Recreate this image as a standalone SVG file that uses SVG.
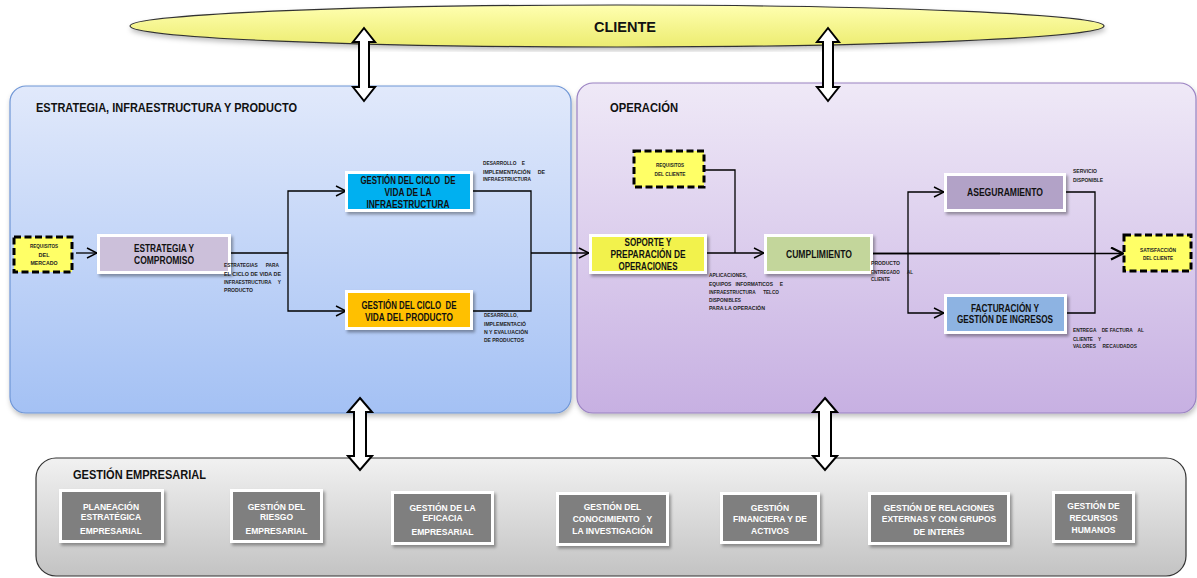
<svg xmlns="http://www.w3.org/2000/svg" width="1197" height="578" viewBox="0 0 1197 578">
<defs>
  <linearGradient id="gLeft" x1="0" y1="0" x2="0" y2="1">
    <stop offset="0" stop-color="#e1e9fb"/>
    <stop offset="1" stop-color="#a4c1f4"/>
  </linearGradient>
  <linearGradient id="gRight" x1="0" y1="0" x2="0" y2="1">
    <stop offset="0" stop-color="#efe9f7"/>
    <stop offset="1" stop-color="#c7b0e2"/>
  </linearGradient>
  <linearGradient id="gBottom" x1="0" y1="0" x2="0" y2="1">
    <stop offset="0" stop-color="#f1f1f1"/>
    <stop offset="1" stop-color="#c3c3c3"/>
  </linearGradient>
  <linearGradient id="gClient" x1="0" y1="0" x2="0" y2="1">
    <stop offset="0" stop-color="#ffffb0"/>
    <stop offset="1" stop-color="#ecec70"/>
  </linearGradient>
  <filter id="sh" x="-10%" y="-20%" width="130%" height="150%">
    <feDropShadow dx="2" dy="2.5" stdDeviation="1.6" flood-color="#000" flood-opacity="0.35"/>
  </filter>
  <filter id="shp" x="-5%" y="-5%" width="110%" height="115%">
    <feDropShadow dx="1" dy="3" stdDeviation="2.5" flood-color="#000" flood-opacity="0.25"/>
  </filter>
  <marker id="ah" viewBox="0 0 12 12" refX="11" refY="6" markerWidth="12" markerHeight="12" markerUnits="userSpaceOnUse" orient="auto">
    <path d="M1,1 L11,6 L1,11" fill="none" stroke="#000" stroke-width="1.4"/>
  </marker>
  <marker id="ahb" viewBox="0 0 14 14" refX="13" refY="7" markerWidth="14" markerHeight="14" markerUnits="userSpaceOnUse" orient="auto">
    <path d="M1,1 L13,7 L1,13" fill="none" stroke="#000" stroke-width="2.2"/>
  </marker>
</defs>
<style>
  text { font-family: "Liberation Sans", Arial, sans-serif; font-weight: bold; white-space: pre; }
  .title { font-size: 12.5px; fill: #111; }
  .bx { font-size: 10px; fill: #111; text-anchor: middle; }
  .sm { font-size: 5.5px; fill: #222; }
  .smc { font-size: 5.5px; fill: #222; text-anchor: middle; }
  .gb { font-size: 8.5px; fill: #fff; text-anchor: middle; }
  .frame { fill: #fff; filter: url(#sh); }
  .dash { fill: #ffff66; stroke: #000; stroke-width: 3; stroke-dasharray: 7 3.5; }
  .ln { fill: none; stroke: #000; stroke-width: 1.3; }
  .blk { fill: #fff; stroke: #000; stroke-width: 2; stroke-linejoin: miter; }
  .gbox { fill: #7f7f7f; }
</style>

<!-- panels -->
<g id="panel-estrategia">
  <rect x="10" y="86" width="561" height="327" rx="16" fill="url(#gLeft)" stroke="#6f96d6" stroke-width="1.2" filter="url(#shp)"/>
  <text class="title" x="36" y="112" textLength="261" lengthAdjust="spacingAndGlyphs">ESTRATEGIA, INFRAESTRUCTURA Y PRODUCTO</text>
</g>
<g id="panel-operacion">
  <rect x="577" y="83" width="619" height="330" rx="16" fill="url(#gRight)" stroke="#9a82c2" stroke-width="1.2" filter="url(#shp)"/>
  <text class="title" x="610" y="112" textLength="68" lengthAdjust="spacingAndGlyphs">OPERACIÓN</text>
</g>
<g id="panel-gestion-empresarial">
  <rect x="36" y="458" width="1150" height="118" rx="20" fill="url(#gBottom)" stroke="#333" stroke-width="1.2"/>
  <text class="title" x="73" y="479" textLength="133" lengthAdjust="spacingAndGlyphs">GESTIÓN EMPRESARIAL</text>
</g>

<!-- client -->
<g id="cliente">
  <ellipse cx="617" cy="26" rx="487" ry="21" fill="url(#gClient)" stroke="#333" stroke-width="1.2" filter="url(#shp)"/>
  <text x="625" y="32" font-size="15" text-anchor="middle" fill="#111" textLength="62" lengthAdjust="spacingAndGlyphs">CLIENTE</text>
</g>

<!-- connectors -->
<g id="connectors">
  <path class="ln" d="M76,253 H97" marker-end="url(#ah)"/>
  <path class="ln" d="M231,253 H288"/>
  <path class="ln" d="M288,253 V191 H346" marker-end="url(#ah)"/>
  <path class="ln" d="M288,253 V311 H346" marker-end="url(#ah)"/>
  <path class="ln" d="M472,191 H531 V311 H472"/>
  <path class="ln" d="M531,253 H589" marker-end="url(#ah)"/>
  <path class="ln" d="M704,170 H735 V253"/>
  <path class="ln" d="M707,253 H764" marker-end="url(#ah)"/>
  <path class="ln" d="M873,253.5 H1000" stroke-width="2.6"/>
  <path class="ln" d="M873,253.5 H1123" stroke-width="1.6" marker-end="url(#ahb)"/>
  <path class="ln" d="M908,253 V192 H944" marker-end="url(#ah)"/>
  <path class="ln" d="M908,253 V313 H944" marker-end="url(#ah)"/>
  <path class="ln" d="M1065,192 H1095 V313 H1066"/>
  <!-- two-way block arrows -->
  <polygon class="blk" points="364,28 375,42 369,42 369,87 375,87 364,101 353,87 359,87 359,42 353,42"/>
  <polygon class="blk" points="828,28 839,42 833,42 833,87 839,87 828,101 817,87 823,87 823,42 817,42"/>
  <polygon class="blk" points="360,398 372,412 366,412 366,456 372,456 360,470 348,456 354,456 354,412 348,412"/>
  <polygon class="blk" points="825,398 837,412 831,412 831,456 837,456 825,470 813,456 819,456 819,412 813,412"/>
</g>

<!-- strategy / infrastructure / product -->
<g id="requisitos-mercado">
  <rect class="dash" x="14" y="237" width="58" height="35"/>
  <text class="smc" x="44" y="248" textLength="28" lengthAdjust="spacingAndGlyphs">REQUISITOS</text>
  <text class="smc" x="44" y="257">DEL</text>
  <text class="smc" x="44" y="265" textLength="27" lengthAdjust="spacingAndGlyphs">MERCADO</text>
</g>
<g id="estrategia-compromiso">
  <rect class="frame" x="97" y="234" width="134" height="40"/>
  <rect x="100" y="237" width="128" height="34" fill="#ccc0da"/>
  <text class="bx" x="164" y="252" fill="#333" textLength="60" lengthAdjust="spacingAndGlyphs">ESTRATEGIA Y</text>
  <text class="bx" x="164" y="264" fill="#333" textLength="60" lengthAdjust="spacingAndGlyphs">COMPROMISO</text>
  <text class="sm" x="224" y="267" textLength="55" lengthAdjust="spacingAndGlyphs">ESTRATEGIAS      PARA</text>
  <text class="sm" x="224" y="275.5" textLength="57" lengthAdjust="spacingAndGlyphs">EL CICLO DE VIDA DE</text>
  <text class="sm" x="224" y="283.5" textLength="57" lengthAdjust="spacingAndGlyphs">INFRAESTRUCTURA     Y</text>
  <text class="sm" x="224" y="292" textLength="29" lengthAdjust="spacingAndGlyphs">PRODUCTO</text>
</g>
<g id="ciclo-infraestructura">
  <rect class="frame" x="345" y="171" width="128" height="41"/>
  <rect x="348" y="174" width="122" height="35" fill="#00b0f0"/>
  <text class="bx" x="408" y="184" textLength="95" lengthAdjust="spacingAndGlyphs">GESTIÓN DEL CICLO  DE</text>
  <text class="bx" x="408" y="195.5" textLength="47" lengthAdjust="spacingAndGlyphs">VIDA DE LA</text>
  <text class="bx" x="408" y="207.5" textLength="83" lengthAdjust="spacingAndGlyphs">INFRAESTRUCTURA</text>
  <text class="sm" x="483" y="165" textLength="42" lengthAdjust="spacingAndGlyphs">DESARROLLO    E</text>
  <text class="sm" x="483" y="174" textLength="62" lengthAdjust="spacingAndGlyphs">IMPLEMENTACIÓN     DE</text>
  <text class="sm" x="483" y="181" textLength="48" lengthAdjust="spacingAndGlyphs">INFRAESTRUCTURA</text>
</g>
<g id="ciclo-producto">
  <rect class="frame" x="345" y="290" width="128" height="40"/>
  <rect x="348" y="293" width="122" height="34" fill="#ffc000"/>
  <text class="bx" x="409" y="308.5" textLength="95" lengthAdjust="spacingAndGlyphs">GESTIÓN DEL CICLO  DE</text>
  <text class="bx" x="409" y="320.5" textLength="88" lengthAdjust="spacingAndGlyphs">VIDA DEL PRODUCTO</text>
  <text class="sm" x="484" y="317" textLength="34" lengthAdjust="spacingAndGlyphs">DESARROLLO,</text>
  <text class="sm" x="484" y="326" textLength="42" lengthAdjust="spacingAndGlyphs">IMPLEMENTACIÓ</text>
  <text class="sm" x="484" y="334" textLength="44" lengthAdjust="spacingAndGlyphs">N Y EVALUACIÓN</text>
  <text class="sm" x="484" y="342" textLength="40" lengthAdjust="spacingAndGlyphs">DE PRODUCTOS</text>
</g>

<!-- operation -->
<g id="requisitos-cliente">
  <rect class="dash" x="634" y="151" width="70" height="36"/>
  <text class="smc" x="670" y="167" textLength="28" lengthAdjust="spacingAndGlyphs">REQUISITOS</text>
  <text class="smc" x="670" y="176" textLength="31" lengthAdjust="spacingAndGlyphs">DEL CLIENTE</text>
</g>
<g id="soporte-preparacion">
  <rect class="frame" x="589" y="234" width="118" height="40"/>
  <rect x="592" y="237" width="112" height="34" fill="#f2f24c"/>
  <text class="bx" x="648" y="245.5" textLength="47" lengthAdjust="spacingAndGlyphs">SOPORTE Y</text>
  <text class="bx" x="648" y="257.5" textLength="75" lengthAdjust="spacingAndGlyphs">PREPARACIÓN DE</text>
  <text class="bx" x="648" y="269.5" textLength="59" lengthAdjust="spacingAndGlyphs">OPERACIONES</text>
  <text class="sm" x="709" y="277" textLength="38" lengthAdjust="spacingAndGlyphs">APLICACIONES,</text>
  <text class="sm" x="709" y="286" textLength="74" lengthAdjust="spacingAndGlyphs">EQUIPOS   INFORMATICOS     E</text>
  <text class="sm" x="709" y="294" textLength="70" lengthAdjust="spacingAndGlyphs">INFRAESTRUCTURA      TELCO</text>
  <text class="sm" x="709" y="302" textLength="32" lengthAdjust="spacingAndGlyphs">DISPONIBLES</text>
  <text class="sm" x="709" y="310" textLength="56" lengthAdjust="spacingAndGlyphs">PARA LA OPERACIÓN</text>
</g>
<g id="cumplimiento">
  <rect class="frame" x="764" y="234" width="109" height="40"/>
  <rect x="767" y="237" width="103" height="34" fill="#c3d69b"/>
  <text class="bx" x="819" y="258" fill="#222" textLength="66" lengthAdjust="spacingAndGlyphs">CUMPLIMIENTO</text>
  <text class="sm" x="871" y="265" textLength="29" lengthAdjust="spacingAndGlyphs">PRODUCTO</text>
  <text class="sm" x="871" y="274" textLength="42" lengthAdjust="spacingAndGlyphs">ENTREGADO      AL</text>
  <text class="sm" x="871" y="281" textLength="19" lengthAdjust="spacingAndGlyphs">CLIENTE</text>
</g>
<g id="aseguramiento">
  <rect class="frame" x="944" y="173" width="122" height="39"/>
  <rect x="947" y="176" width="116" height="33" fill="#b2a2c7"/>
  <text class="bx" x="1005" y="195.5" fill="#222" textLength="76" lengthAdjust="spacingAndGlyphs">ASEGURAMIENTO</text>
  <text class="sm" x="1073" y="173" textLength="24" lengthAdjust="spacingAndGlyphs">SERVICIO</text>
  <text class="sm" x="1073" y="182" textLength="30" lengthAdjust="spacingAndGlyphs">DISPONIBLE</text>
</g>
<g id="facturacion">
  <rect class="frame" x="944" y="294" width="123" height="40"/>
  <rect x="947" y="297" width="117" height="34" fill="#8db3e2"/>
  <text class="bx" x="1005" y="312" fill="#fff" textLength="68" lengthAdjust="spacingAndGlyphs">FACTURACIÓN Y</text>
  <text class="bx" x="1005" y="323" fill="#fff" textLength="96" lengthAdjust="spacingAndGlyphs">GESTIÓN DE INGRESOS</text>
  <text class="sm" x="1073" y="332" textLength="71" lengthAdjust="spacingAndGlyphs">ENTREGA    DE FACTURA    AL</text>
  <text class="sm" x="1073" y="341" textLength="28" lengthAdjust="spacingAndGlyphs">CLIENTE    Y</text>
  <text class="sm" x="1073" y="348" textLength="64" lengthAdjust="spacingAndGlyphs">VALORES     RECAUDADOS</text>
</g>
<g id="satisfaccion-cliente">
  <rect class="dash" x="1124" y="235" width="67" height="36"/>
  <text class="smc" x="1158" y="252" textLength="36" lengthAdjust="spacingAndGlyphs">SATISFACCIÓN</text>
  <text class="smc" x="1158" y="260" textLength="30" lengthAdjust="spacingAndGlyphs">DEL CLIENTE</text>
</g>

<!-- business management -->
<g id="planeacion-estrategica">
  <rect class="frame" x="59" y="489" width="105" height="54"/>
  <rect class="gbox" x="62" y="492" width="99" height="48"/>
  <text class="gb" x="111" y="510">PLANEACIÓN</text>
  <text class="gb" x="111" y="520">ESTRATÉGICA</text>
  <text class="gb" x="111" y="534">EMPRESARIAL</text>
</g>
<g id="gestion-riesgo">
  <rect class="frame" x="230" y="489" width="93" height="54"/>
  <rect class="gbox" x="233" y="492" width="87" height="48"/>
  <text class="gb" x="276.5" y="510">GESTIÓN DEL</text>
  <text class="gb" x="276.5" y="520">RIESGO</text>
  <text class="gb" x="276.5" y="534">EMPRESARIAL</text>
</g>
<g id="gestion-eficacia">
  <rect class="frame" x="391" y="491" width="103" height="54"/>
  <rect class="gbox" x="394" y="494" width="97" height="48"/>
  <text class="gb" x="442.5" y="511">GESTIÓN DE LA</text>
  <text class="gb" x="442.5" y="521">EFICACIA</text>
  <text class="gb" x="442.5" y="535">EMPRESARIAL</text>
</g>
<g id="gestion-conocimiento">
  <rect class="frame" x="556" y="492" width="113" height="54"/>
  <rect class="gbox" x="559" y="495" width="107" height="48"/>
  <text class="gb" x="612.5" y="510">GESTIÓN DEL</text>
  <text class="gb" x="612.5" y="522">CONOCIMIENTO   Y</text>
  <text class="gb" x="612.5" y="534">LA INVESTIGACIÓN</text>
</g>
<g id="gestion-financiera">
  <rect class="frame" x="720" y="492" width="100" height="52"/>
  <rect class="gbox" x="723" y="495" width="94" height="46"/>
  <text class="gb" x="770" y="511">GESTIÓN</text>
  <text class="gb" x="770" y="522">FINANCIERA Y DE</text>
  <text class="gb" x="770" y="534">ACTIVOS</text>
</g>
<g id="gestion-relaciones">
  <rect class="frame" x="868" y="492" width="142" height="53"/>
  <rect class="gbox" x="871" y="495" width="136" height="47"/>
  <text class="gb" x="939" y="511">GESTIÓN DE RELACIONES</text>
  <text class="gb" x="939" y="522">EXTERNAS Y CON GRUPOS</text>
  <text class="gb" x="939" y="535">DE INTERÉS</text>
</g>
<g id="gestion-recursos-humanos">
  <rect class="frame" x="1052" y="491" width="83" height="52"/>
  <rect class="gbox" x="1055" y="494" width="77" height="46"/>
  <text class="gb" x="1093.5" y="509">GESTIÓN DE</text>
  <text class="gb" x="1093.5" y="521">RECURSOS</text>
  <text class="gb" x="1093.5" y="533">HUMANOS</text>
</g>
</svg>
